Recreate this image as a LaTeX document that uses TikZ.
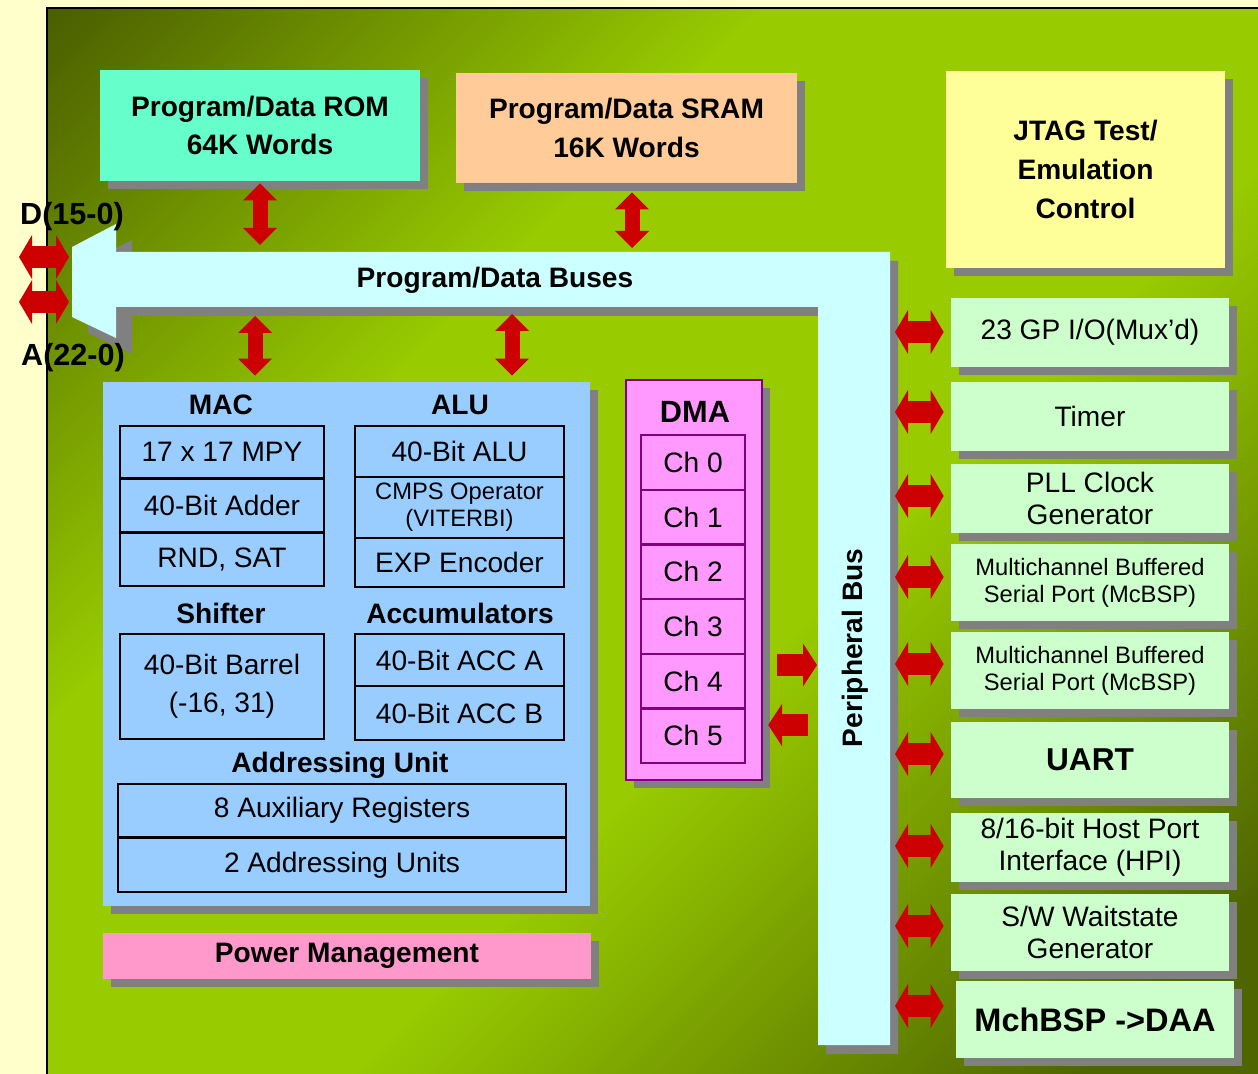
\documentclass[tikz,border=0pt]{standalone}
\usepackage{xcolor}
\usepackage{fontspec}
\setmainfont{Liberation Sans}
\usetikzlibrary{arrows.meta,shadows,calc}

\definecolor{bgyellow}{HTML}{FFFFCC}
\definecolor{pdark}{HTML}{4B6000}
\definecolor{pbright}{HTML}{99CC00}
\definecolor{pdarkb}{HTML}{4F6600}
\definecolor{shadowgray}{HTML}{808080}
\definecolor{rommint}{HTML}{66FFCC}
\definecolor{sramtan}{HTML}{FFCC99}
\definecolor{jtagyellow}{HTML}{FFFF99}
\definecolor{busblue}{HTML}{CCFFFF}
\definecolor{cpublue}{HTML}{99CCFF}
\definecolor{powerpink}{HTML}{FF99CC}
\definecolor{dmapink}{HTML}{FF99FF}
\definecolor{dmapurple}{HTML}{800080}
\definecolor{perigreen}{HTML}{CCFFCC}
\definecolor{arrowred}{HTML}{CC0000}

\pgfdeclareverticalshading{panelgrad}{100bp}{color(0bp)=(pdarkb); color(20bp)=(pdarkb); color(43bp)=(pbright); color(63bp)=(pbright); color(85bp)=(pdark); color(100bp)=(pdark)}

\tikzset{
  shadowbox/.style={drop shadow={shadow xshift=1.6mm,shadow yshift=-1.6mm,fill=shadowgray,opacity=1}},
  membox/.style={shadowbox,inner sep=0pt,align=center,font=\fontsize{16}{22}\selectfont\bfseries},
  perbox/.style={shadowbox,fill=perigreen,minimum width=55.6mm,inner sep=0pt,align=center,font=\fontsize{16}{18}\selectfont},
  unitbox/.style={draw=black,line width=1.2pt,fill=cpublue,inner sep=0pt,align=center,font=\fontsize{16}{21.5}\selectfont},
  chbox/.style={draw=dmapurple,line width=1.2pt,fill=dmapink,minimum width=20.8mm,minimum height=10.9mm,inner sep=0pt,font=\fontsize{16}{18}\selectfont},
  grouplbl/.style={inner sep=0pt,font=\fontsize{16}{18}\selectfont\bfseries},
  smalltxt/.style={font=\fontsize{13.5}{15.5}\selectfont},
  vdbl/.style={draw=arrowred,line width=3mm,{Triangle[width=6.8mm,length=3.4mm,line width=0pt]}-{Triangle[width=6.8mm,length=3.4mm,line width=0pt]}},
  hdbl/.style={draw=arrowred,line width=4.4mm,{Triangle[width=8.8mm,length=2.6mm,line width=0pt]}-{Triangle[width=8.8mm,length=2.6mm,line width=0pt]}},
  sarrow/.style={draw=arrowred,line width=4.4mm,-{Triangle[width=8.6mm,length=2.8mm,line width=0pt]}}
}

\begin{document}
\begin{tikzpicture}[x=0.2mm,y=-0.2mm]
  \useasboundingbox (0,0) rectangle (1258,1074);
  \fill[bgyellow] (0,0) rectangle (1258,1074);
  \shade[shading=panelgrad,shading angle=45] (47,8) rectangle (1258,1074);
  \draw[line width=1.2pt] (47,1074) -- (47,8) -- (1258,8);

  % program/data buses and peripheral bus
  \fill[shadowgray] (88,263) -- (132,240) -- (132,354) -- (88,333) -- cycle;
  \fill[shadowgray] (108,261) -- (898,261) -- (898,1054) -- (826,1054) -- (826,316) -- (108,316) -- cycle;
  \fill[busblue] (100,252) -- (890,252) -- (890,1045) -- (818,1045) -- (818,307) -- (100,307) -- cycle;
  \fill[busblue] (72,247) -- (116,224) -- (116,338) -- (72,317) -- cycle;
  \coordinate (busN) at (116,252);
  \coordinate (busS) at (116,307);
  \coordinate (busW) at (72,282);
  \coordinate (pbW) at (818,1045);
  \coordinate (pbE) at (890,1045);
  \node[grouplbl] (pdbus) at (495,280) {Program/Data Buses};
  \node[grouplbl,rotate=90] (perbus) at (855,648) {Peripheral Bus};

  % memories and JTAG
  \node[membox,fill=rommint,minimum width=64mm,minimum height=22.2mm] (rom) at (260,125.5) {Program/Data ROM\\64K Words};
  \node[membox,fill=sramtan,minimum width=68.2mm,minimum height=22mm] (sram) at (626.5,128) {Program/Data SRAM\\16K Words};
  \node[membox,fill=jtagyellow,minimum width=55.8mm,minimum height=39.4mm] (jtag) at (1085.5,169.5) {JTAG Test/\\Emulation\\Control};

  % CPU
  \node[shadowbox,fill=cpublue,minimum width=97.4mm,minimum height=104.8mm,inner sep=0pt] (cpu) at (346.5,644) {};
  \node[grouplbl] (mac) at (221,405) {MAC};
  \node[grouplbl] (alu) at (460,405) {ALU};
  \node[unitbox,minimum width=40.7mm,minimum height=10.4mm] (mpy) at (222,452) {17 x 17 MPY};
  \node[unitbox,minimum width=40.7mm,minimum height=10.6mm] (adder) at (222,505.5) {40-Bit Adder};
  \node[unitbox,minimum width=40.7mm,minimum height=10.6mm] (rnd) at (222,559.5) {RND, SAT};
  \node[unitbox,minimum width=41.8mm,minimum height=10.2mm] (alubit) at (459.5,451.5) {40-Bit ALU};
  \node[unitbox,smalltxt,minimum width=41.8mm,minimum height=12.2mm] (cmps) at (459.5,507.5) {CMPS Operator\\(VITERBI)};
  \node[unitbox,minimum width=41.8mm,minimum height=9.8mm] (expenc) at (459.5,562.5) {EXP Encoder};
  \node[grouplbl] (shifter) at (221,613) {Shifter};
  \node[grouplbl] (accs) at (460,613) {Accumulators};
  \node[unitbox,minimum width=40.7mm,minimum height=21mm] (barrel) at (222,686.5) {40-Bit Barrel\\(-16, 31)};
  \node[unitbox,minimum width=41.8mm,minimum height=10.4mm] (acca) at (459.5,660) {40-Bit ACC A};
  \node[unitbox,minimum width=41.8mm,minimum height=10.8mm] (accb) at (459.5,713) {40-Bit ACC B};
  \node[grouplbl] (addrunit) at (340,765) {Addressing Unit};
  \node[unitbox,minimum width=89.6mm,minimum height=10.6mm] (auxreg) at (342,810.5) {8 Auxiliary Registers};
  \node[unitbox,minimum width=89.6mm,minimum height=10.8mm] (addrs) at (342,865) {2 Addressing Units};
  \node[membox,fill=powerpink,minimum width=97.6mm,minimum height=9.2mm,font=\fontsize{16}{18}\selectfont\bfseries] (power) at (347,956) {Power Management};

  % DMA
  \node[shadowbox,draw=dmapurple,line width=1.4pt,fill=dmapink,minimum width=27.2mm,minimum height=80mm] (dma) at (694,580) {};
  \node[grouplbl,font=\fontsize{17.5}{18}\selectfont\bfseries] (dmalbl) at (695,412) {DMA};
  \foreach \i in {0,...,5}
    \node[chbox] (ch\i) at (693,{462.5+54.65*\i}) {Ch \i};

  % peripherals
  \node[perbox,minimum height=13.8mm] (gpio) at (1090,332.5) {23 GP I/O(Mux’d)};
  \node[perbox,minimum height=13.8mm] (timer) at (1090,416.5) {Timer};
  \node[perbox,minimum height=13.8mm] (pll) at (1090,498.5) {PLL Clock\\Generator};
  \node[perbox,smalltxt,minimum height=15.4mm] (mcbspa) at (1090,582.5) {Multichannel Buffered\\Serial Port (McBSP)};
  \node[perbox,smalltxt,minimum height=15.4mm] (mcbspb) at (1090,670.5) {Multichannel Buffered\\Serial Port (McBSP)};
  \node[perbox,minimum height=15.2mm,font=\fontsize{18}{20}\selectfont\bfseries] (uart) at (1090,760) {UART};
  \node[perbox,minimum height=13.8mm] (hpi) at (1090,847.5) {8/16-bit Host Port\\Interface (HPI)};
  \node[perbox,minimum height=15.4mm] (waitst) at (1090,932.5) {S/W Waitstate\\Generator};
  \node[perbox,minimum height=15.4mm,font=\fontsize{18.5}{20}\selectfont\bfseries] (daa) at (1095,1019.5) {MchBSP ->DAA};

  % external pins
  \node[grouplbl,font=\fontsize{17.4}{18}\selectfont\bfseries] (dlbl) at (72,217) {D(15-0)};
  \node[grouplbl,font=\fontsize{17.4}{18}\selectfont\bfseries] (albl) at (73,358) {A(22-0)};
  \coordinate (dport) at (19,257);
  \coordinate (aport) at (19,302);

  % arrows
  \draw[vdbl] ($(rom.south)+(0,2)$) -- ($(rom.south |- busN)+(0,-7)$);
  \draw[vdbl] ($(sram.south)+(5.5,9)$) -- ($(sram.south |- busN)+(5.5,-4)$);
  \draw[vdbl] ($(busS -| cpu.north)+(-91.5,9)$) -- ($(cpu.north)+(-91.5,-6)$);
  \draw[vdbl] ($(busS -| cpu.north)+(165.5,7)$) -- ($(cpu.north)+(165.5,-6)$);
  \draw[hdbl] (dport) -- ($(dport -| busW)+(-3,0)$);
  \draw[hdbl] (aport) -- ($(aport -| busW)+(-3,0)$);
  \draw[sarrow] ($(dma.east)+(14,85)$) -- ($(dma.east -| pbW)+(-1,85)$);
  \draw[sarrow] ($(dma.east -| pbW)+(-10,145)$) -- ($(dma.east)+(5,145)$);
  \foreach \p/\dy/\dx in {gpio/-0.5/-7,timer/-4.5/-7,pll/-2.5/-7,mcbspa/-5.5/-7,mcbspb/-6.5/-7,uart/-6/-7,hpi/-1.5/-7,waitst/-6.5/-7,daa/-13.5/-12}
    \draw[hdbl] ($(\p.west -| pbE)+(5,\dy)$) -- ($(\p.west)+(\dx,\dy)$);
\end{tikzpicture}
\end{document}
